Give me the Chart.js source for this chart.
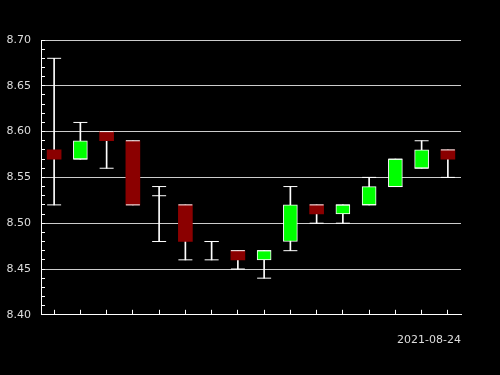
<!DOCTYPE html>
<html>
<head>
<meta charset="utf-8">
<script src="https://cdn.jsdelivr.net/npm/chart.js@4/dist/chart.umd.min.js"></script>
<style>
  html, body { margin: 0; padding: 0; background: #000; }
</style>
</head>
<body>
<canvas id="myChart" width="500" height="375"></canvas>
<script>
const dates = ['2021-08-03', '2021-08-04', '2021-08-05', '2021-08-06', '2021-08-09', '2021-08-10',
               '2021-08-11', '2021-08-12', '2021-08-13', '2021-08-16', '2021-08-17', '2021-08-18',
               '2021-08-19', '2021-08-20', '2021-08-23', '2021-08-24'];
const open  = [8.58, 8.57, 8.60, 8.59, 8.53, 8.52, 8.48, 8.47, 8.46, 8.48, 8.52, 8.51, 8.52, 8.54, 8.56, 8.58];
const high  = [8.68, 8.61, 8.60, 8.59, 8.54, 8.52, 8.48, 8.47, 8.47, 8.54, 8.52, 8.52, 8.55, 8.57, 8.59, 8.58];
const low   = [8.52, 8.57, 8.56, 8.52, 8.48, 8.46, 8.46, 8.45, 8.44, 8.47, 8.50, 8.50, 8.52, 8.54, 8.56, 8.55];
const close = [8.57, 8.59, 8.59, 8.52, 8.53, 8.48, 8.48, 8.46, 8.47, 8.52, 8.51, 8.52, 8.54, 8.57, 8.58, 8.57];

const up = close.map((c, i) => c >= open[i]);
const bodies = open.map((o, i) => [o, close[i]]);
const wicks = low.map((l, i) => [l, high[i]]);
const flat = open.map((o, i) => (o === close[i] ? o : null));

Chart.defaults.font.family = 'DejaVu Sans';
Chart.defaults.font.size = 11;
Chart.defaults.color = '#dddddd';

// horizontal caps at high / low (and the body line of a doji)
const capStyle = {
  type: 'line',
  showLine: false,
  pointStyle: 'line',
  pointRadius: 7,
  pointHoverRadius: 7,
  pointBorderColor: '#ffffff',
  pointBorderWidth: 1,
  order: 0
};

new Chart(document.getElementById('myChart'), {
  type: 'bar',
  data: {
    labels: dates,
    datasets: [
      { ...capStyle, data: high },
      { ...capStyle, data: low },
      { ...capStyle, data: flat },
      {
        data: bodies,
        grouped: false,
        barThickness: 14,
        backgroundColor: up.map(u => (u ? '#00ff00' : '#8b0000')),
        borderColor: '#ffffff',
        borderWidth: up.map(u => (u ? 1 : 0)),
        borderSkipped: false,
        order: 1
      },
      {
        data: wicks,
        grouped: false,
        barThickness: 1,
        backgroundColor: '#ffffff',
        borderWidth: 0,
        order: 2
      }
    ]
  },
  options: {
    responsive: false,
    animation: false,
    layout: { padding: { top: 40, right: 39, bottom: 24, left: 6 } },
    plugins: { legend: { display: false }, tooltip: { enabled: false } },
    scales: {
      x: {
        offset: true,
        border: { color: '#ffffff', width: 1 },
        grid: { offset: false, drawOnChartArea: false, tickLength: -5, tickColor: '#ffffff' },
        ticks: { display: false },
        title: {
          display: true,
          text: '2021-08-24',
          align: 'end',
          color: '#dddddd',
          font: { size: 11 },
          padding: { top: 24, bottom: 4 }
        }
      },
      y: {
        min: 8.40,
        max: 8.70,
        afterFit: scale => { scale.width = 35; },
        border: { color: '#ffffff', width: 1 },
        grid: {
          tickLength: -4,
          tickColor: '#ffffff',
          color: ctx => (Math.round(ctx.tick.value * 100) % 5 === 0 ? '#cccccc' : 'rgba(0,0,0,0)')
        },
        ticks: {
          stepSize: 0.01,
          autoSkip: false,
          padding: 14,
          color: '#dddddd',
          callback: v => (Math.round(v * 100) % 5 === 0 ? v.toFixed(2) : '')
        }
      }
    }
  }
});
</script>
</body>
</html>
